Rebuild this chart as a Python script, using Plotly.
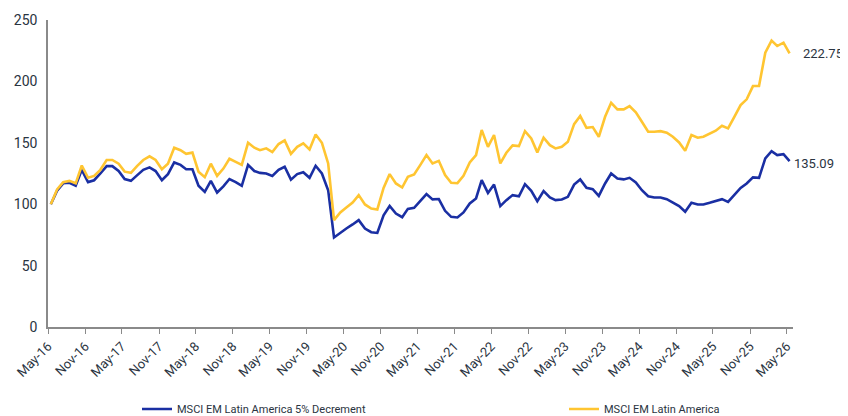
import pandas as pd
import plotly.graph_objects as go

# Monthly observations, May-16 .. May-26 (plotted mid-month)
dates = pd.date_range("2016-05-01", "2026-05-01", freq="MS") + pd.Timedelta(days=14)

decrement = [
    100, 111, 117, 117.5, 115, 128, 118, 119.5, 125, 131,
    131, 127, 120.5, 119, 123.5, 128, 130, 127, 119.5, 124.5,
    134, 132, 128.5, 128.5, 115, 110, 119, 109.5, 114.5, 120.5,
    118, 115, 132, 127, 125.5, 125, 123, 128, 130.5, 120,
    124.5, 126, 121.5, 131.3, 125, 111.4, 72.9, 77, 80.2, 83.5,
    87, 80.2, 77.2, 76.6, 91, 98.6, 92.4, 89.4, 96.2, 97,
    102.7, 108.2, 103.9, 104.2, 94.6, 89.7, 89.2, 93.3, 100.6, 104.7,
    119.6, 109.2, 116, 98.4, 103.3, 107.4, 106.5, 116.3, 110.9, 102.5,
    110.6, 105.5, 103.3, 103.8, 106, 116, 120.2, 113.3, 112.3, 106.8,
    116.9, 125, 121, 120.2, 121.5, 117.7, 111.4, 106.5, 105.5, 105.5,
    104.1, 101.4, 98.4, 93.8, 101.1, 99.8, 99.8, 101.1, 102.7, 104.1,
    101.9, 107.9, 113.3, 116.9, 121.8, 121.5, 137.3, 143.2, 140, 140.8,
    135.09,
]

latam = [
    100, 112, 118, 119, 117, 131.5, 121.5, 123, 128, 136,
    136, 133, 126.5, 125.5, 131, 136, 139, 136, 128.5, 133,
    146, 144, 141, 142, 126.5, 122, 133, 123, 129, 137,
    134.5, 132, 150, 146, 144, 145.5, 142.5, 149, 152, 141,
    146.7, 149.5, 144.6, 156.8, 150, 133.2, 87, 93.3, 97.3, 101.4,
    107.4, 99.8, 96.5, 95.7, 113.3, 124.5, 116.9, 113.6, 122.3, 124.2,
    131.8, 140, 133.2, 135.3, 123.7, 117.4, 117.1, 123.1, 134, 140,
    160.4, 146.7, 156.3, 133.2, 141.9, 147.9, 147.3, 159.5, 153.6, 142.2,
    154.1, 148.1, 145.4, 146.7, 150.8, 165.2, 171.8, 162.2, 162.8, 154.9,
    171.2, 182.6, 177.2, 177.2, 179.9, 174.8, 167.1, 159, 159, 159.5,
    158.2, 154.9, 150.3, 143.5, 156.3, 154.1, 154.9, 157.1, 159.8, 163.9,
    161.7, 171.2, 180.7, 185.4, 196.2, 196.2, 223.4, 233.2, 228.8, 231.5,
    222.75,
]

tick_dates = pd.date_range("2016-05-01", "2026-05-01", freq="6MS")
tick_labels = [
    "May-16", "Nov-16", "May-17", "Nov-17", "May-18", "Nov-18", "May-19",
    "Nov-19", "May-20", "Nov-20", "May-21", "Nov-21", "May-22", "Nov-22",
    "May-23", "Nov-23", "May-24", "Nov-24", "May-25", "Nov-25", "May-26",
]

series_names = ["MSCI EM Latin America 5% Decrement", "MSCI EM Latin America"]
end_labels = ["135.09", "222.75"]

BLUE = "#1A2FA3"
YELLOW = "#FFC531"
TXT = "#2A3441"

# The page body has an 8px default margin, so the figure is sized to fit the window.
W, H = 840, 408

fig = go.Figure()
fig.add_trace(go.Scatter(x=dates, y=decrement, mode="lines", name=series_names[0],
                         line=dict(color=BLUE, width=2.6), legend="legend"))
fig.add_trace(go.Scatter(x=dates, y=latam, mode="lines", name=series_names[1],
                         line=dict(color=YELLOW, width=2.6), legend="legend2"))

fig.add_annotation(x=dates[-1], y=decrement[-1], text=end_labels[0], showarrow=False,
                   xanchor="left", yanchor="middle", xshift=2, yshift=-2,
                   font=dict(size=13, color=TXT, family="Roboto"))
fig.add_annotation(x=dates[-1], y=latam[-1], text=end_labels[1], showarrow=False,
                   xanchor="left", yanchor="middle", xshift=11, yshift=0,
                   font=dict(size=13, color=TXT, family="Roboto"))

legend_common = dict(orientation="h", yref="container", y=1 - 401 / H, yanchor="middle",
                     xref="container", xanchor="left",
                     font=dict(size=11, color=TXT, family="Roboto"),
                     itemwidth=30, bgcolor="rgba(0,0,0,0)")

fig.update_layout(
    width=W, height=H,
    margin=dict(l=40, r=55, t=12, b=89, autoexpand=False),
    paper_bgcolor="white", plot_bgcolor="white",
    font=dict(family="Roboto", color=TXT),
    showlegend=True,
    legend=dict(x=129 / W, **legend_common),
    legend2=dict(x=556 / W, **legend_common),
)
fig.update_xaxes(
    type="date", range=["2016-05-01", "2026-06-01"],
    tickvals=list(tick_dates), ticktext=tick_labels, tickangle=-45,
    tickfont=dict(size=13, color=TXT),
    showline=True, linecolor="#8A8A8A", linewidth=1.5,
    ticks="outside", ticklen=5, tickcolor="#8A8A8A",
    showgrid=False, zeroline=False, automargin=False,
)
fig.update_yaxes(
    range=[0, 250], dtick=50, tickfont=dict(size=14, color=TXT),
    showline=True, linecolor="#8A8A8A", linewidth=1.5,
    showgrid=False, zeroline=False, ticks="", ticklabelstandoff=6,
    automargin=False,
)

fig.write_html("out.html")
